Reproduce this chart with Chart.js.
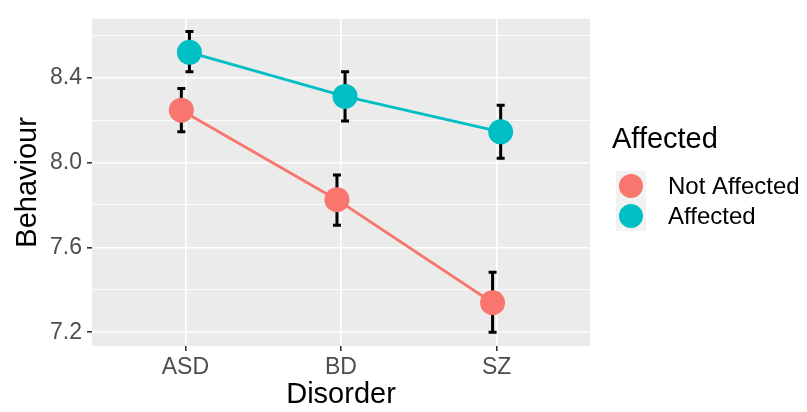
<!DOCTYPE html>
<html>
<head>
<meta charset="utf-8">
<script src="https://cdn.jsdelivr.net/npm/chart.js@4"></script>
<style>
  html, body { margin: 0; padding: 0; background: #ffffff; }
  canvas { display: block; }
</style>
</head>
<body>
<canvas id="chart" width="807" height="412"></canvas>
<script>
// Data
const disorders = ["ASD", "BD", "SZ"];
const notAffectedMean = [8.247, 7.825, 7.339];
const notAffectedLow = [8.145, 7.704, 7.200];
const notAffectedHigh = [8.349, 7.941, 7.483];
const affectedMean = [8.520, 8.312, 8.145];
const affectedLow = [8.428, 8.196, 8.020];
const affectedHigh = [8.618, 8.428, 8.270];
const yTickLabels = ["7.2", "7.6", "8.0", "8.4"];
const yMinorTicks = [7.4, 7.8, 8.2, 8.6];

const red = "#F8766D";
const teal = "#00BFC4";
const dodge = 0.026;   // small position dodge like ggplot
const fontFamily = "'Liberation Sans', Arial, sans-serif";

function toPoints(values, shift) {
    return values.map((v, i) => ({ x: i + shift, y: v }));
}

function isMajor(value) {
    return yTickLabels.some(t => Math.abs(Number(t) - value) < 1e-6);
}

// grey ggplot panel
const panelBackground = {
    id: "panelBackground",
    beforeDraw(chart) {
        const { ctx, chartArea } = chart;
        ctx.save();
        ctx.fillStyle = "#EBEBEB";
        ctx.fillRect(chartArea.left, chartArea.top, chartArea.width, chartArea.height);
        ctx.restore();
    }
};

// error bars, drawn under the lines and points
const errorBars = {
    id: "errorBars",
    beforeDatasetsDraw(chart) {
        const { ctx, scales } = chart;
        ctx.save();
        ctx.strokeStyle = "#000000";
        ctx.lineWidth = 3;
        chart.data.datasets.forEach(ds => {
            ds.data.forEach((p, i) => {
                const x = scales.x.getPixelForValue(p.x);
                const yLow = scales.y.getPixelForValue(ds.low[i]);
                const yHigh = scales.y.getPixelForValue(ds.high[i]);
                ctx.beginPath();
                ctx.moveTo(x, yLow);
                ctx.lineTo(x, yHigh);
                ctx.moveTo(x - 4, yLow);
                ctx.lineTo(x + 4, yLow);
                ctx.moveTo(x - 4, yHigh);
                ctx.lineTo(x + 4, yHigh);
                ctx.stroke();
            });
        });
        ctx.restore();
    }
};

// ggplot-like legend on the right
const sideLegend = {
    id: "sideLegend",
    afterDraw(chart) {
        const { ctx } = chart;
        const left = 612;
        ctx.save();
        ctx.fillStyle = "#000000";
        ctx.font = "29px " + fontFamily;
        ctx.textBaseline = "middle";
        ctx.fillText("Affected", left, 140);
        ctx.font = "24px " + fontFamily;
        chart.data.datasets.forEach((ds, i) => {
            const cy = 186 + i * 30;
            ctx.fillStyle = "#F2F2F2";
            ctx.fillRect(left + 4, cy - 15, 30, 30);
            ctx.beginPath();
            ctx.arc(left + 19, cy, 12, 0, Math.PI * 2);
            ctx.fillStyle = ds.borderColor;
            ctx.fill();
            ctx.fillStyle = "#000000";
            ctx.fillText(ds.label, left + 56, cy + 1);
        });
        ctx.restore();
    }
};

const ctx = document.getElementById("chart").getContext("2d");
new Chart(ctx, {
    type: "line",
    data: {
        datasets: [
            {
                label: "Not Affected",
                data: toPoints(notAffectedMean, -dodge),
                low: notAffectedLow,
                high: notAffectedHigh,
                borderColor: red,
                backgroundColor: red,
                borderWidth: 2.8,
                pointRadius: 12.5,
                pointBorderWidth: 0,
                pointHoverRadius: 12.5
            },
            {
                label: "Affected",
                data: toPoints(affectedMean, dodge),
                low: affectedLow,
                high: affectedHigh,
                borderColor: teal,
                backgroundColor: teal,
                borderWidth: 2.8,
                pointRadius: 12.5,
                pointBorderWidth: 0,
                pointHoverRadius: 12.5
            }
        ]
    },
    options: {
        responsive: false,
        animation: false,
        layout: {
            padding: { top: 13, right: 217, left: 0, bottom: 0 }
        },
        scales: {
            x: {
                type: "linear",
                min: -0.6,
                max: disorders.length - 0.4,
                afterBuildTicks: scale => {
                    scale.ticks = disorders.map((d, i) => ({ value: i }));
                },
                afterFit: scale => { scale.height = 66; },
                ticks: {
                    callback: value => disorders[value],
                    color: "#4D4D4D",
                    font: { family: fontFamily, size: 23 },
                    padding: 3,
                    maxRotation: 0
                },
                grid: {
                    color: "#FFFFFF",
                    lineWidth: 1.6,
                    tickColor: "#333333",
                    tickLength: 5
                },
                border: { display: false },
                title: {
                    display: true,
                    text: "Disorder",
                    color: "#000000",
                    font: { family: fontFamily, size: 29, lineHeight: 1.1 },
                    padding: { top: 0, bottom: 1 }
                }
            },
            y: {
                min: 7.135,
                max: 8.678,
                afterBuildTicks: scale => {
                    const vals = yTickLabels.map(Number).concat(yMinorTicks).sort((a, b) => a - b);
                    scale.ticks = vals.map(v => ({ value: v }));
                },
                afterFit: scale => { scale.width = 92; },
                ticks: {
                    callback: value => {
                        const lbl = yTickLabels.find(t => Math.abs(Number(t) - value) < 1e-6);
                        return lbl || "";
                    },
                    color: "#4D4D4D",
                    font: { family: fontFamily, size: 23 },
                    padding: 5
                },
                grid: {
                    color: "#FFFFFF",
                    lineWidth: c => (isMajor(c.tick.value) ? 1.6 : 0.8),
                    tickColor: c => (isMajor(c.tick.value) ? "#333333" : "rgba(0,0,0,0)"),
                    tickLength: 5
                },
                border: { display: false },
                title: {
                    display: true,
                    text: "Behaviour",
                    color: "#000000",
                    font: { family: fontFamily, size: 29, lineHeight: 1.1 },
                    padding: { top: 12, bottom: 0 }
                }
            }
        },
        plugins: {
            legend: { display: false },
            tooltip: { enabled: false }
        }
    },
    plugins: [panelBackground, errorBars, sideLegend]
});
</script>
</body>
</html>
